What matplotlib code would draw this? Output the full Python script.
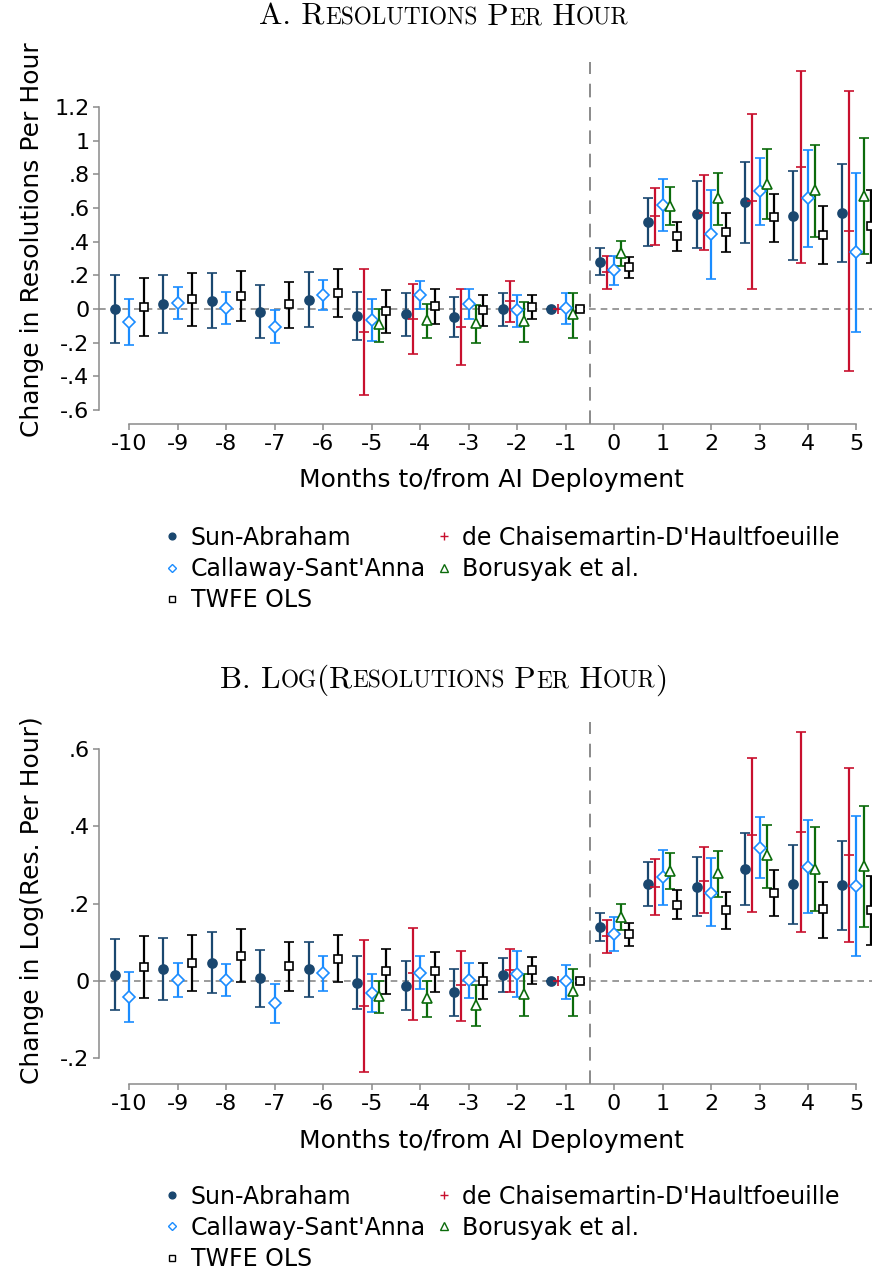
import numpy as np
import matplotlib
matplotlib.use("Agg")
import matplotlib.pyplot as plt
from matplotlib.lines import Line2D
from matplotlib.offsetbox import TextArea, HPacker, AnchoredOffsetbox

plt.rcParams['font.family'] = ['DejaVu Sans']
plt.rcParams['axes.unicode_minus'] = False

# --------------------------------------------------------------------
periods = list(range(-10, 6))
nan = np.nan

# Panel A: resolutions per hour (estimate, lower, upper)
sa_a = [0.00, 0.03, 0.05, -0.02, 0.055, -0.044, -0.03, -0.048, 0.0, 0.0, 0.281, 0.519, 0.563, 0.634, 0.555, 0.569]
sa_a_lo = [-0.20, -0.143, -0.115, -0.17, -0.109, -0.186, -0.159, -0.168, -0.099, 0.0, 0.20, 0.376, 0.363, 0.394, 0.289, 0.278]
sa_a_hi = [0.204, 0.204, 0.214, 0.141, 0.22, 0.099, 0.097, 0.071, 0.093, 0.0, 0.363, 0.662, 0.761, 0.874, 0.82, 0.86]

dc_a = [nan]*5 + [-0.137, -0.059, -0.105, 0.046, 0.0, 0.218, 0.551, 0.573, 0.64, 0.844, 0.466]
dc_a_lo = [nan]*5 + [-0.511, -0.268, -0.331, -0.077, 0.0, 0.119, 0.38, 0.349, 0.121, 0.275, -0.367]
dc_a_hi = [nan]*5 + [0.236, 0.149, 0.119, 0.168, 0.0, 0.315, 0.721, 0.795, 1.159, 1.417, 1.296]

cs_a = [-0.079, 0.038, 0.004, -0.105, 0.081, -0.065, 0.083, 0.03, -0.008, 0.004, 0.232, 0.618, 0.446, 0.70, 0.66, 0.337]
cs_a_lo = [-0.212, -0.059, -0.089, -0.204, -0.008, -0.192, -0.002, -0.061, -0.105, -0.089, 0.145, 0.464, 0.18, 0.501, 0.37, -0.135]
cs_a_hi = [0.058, 0.131, 0.099, -0.006, 0.171, 0.059, 0.168, 0.121, 0.083, 0.095, 0.317, 0.775, 0.707, 0.90, 0.947, 0.808]

bj_a = [nan]*5 + [-0.089, -0.063, -0.085, -0.071, -0.032, 0.331, 0.614, 0.662, 0.745, 0.706, 0.672]
bj_a_lo = [nan]*5 + [-0.196, -0.17, -0.202, -0.198, -0.172, 0.256, 0.497, 0.499, 0.533, 0.43, 0.327]
bj_a_hi = [nan]*5 + [0.002, 0.032, 0.022, 0.043, 0.095, 0.404, 0.727, 0.808, 0.951, 0.975, 1.015]

tw_a = [0.01, 0.059, 0.077, 0.028, 0.095, -0.014, 0.018, -0.008, 0.014, 0.0, 0.25, 0.432, 0.458, 0.545, 0.438, 0.492]
tw_a_lo = [-0.159, -0.101, -0.071, -0.111, -0.046, -0.141, -0.087, -0.101, -0.061, -0.012, 0.186, 0.343, 0.341, 0.40, 0.266, 0.272]
tw_a_hi = [0.182, 0.214, 0.228, 0.162, 0.238, 0.111, 0.121, 0.085, 0.083, 0.012, 0.311, 0.517, 0.573, 0.686, 0.611, 0.709]

# Panel B: log(resolutions per hour)
sa_b = [0.017, 0.032, 0.047, 0.008, 0.031, -0.004, -0.012, -0.028, 0.016, 0.0, 0.139, 0.252, 0.243, 0.289, 0.25, 0.248]
sa_b_lo = [-0.074, -0.048, -0.032, -0.066, -0.041, -0.072, -0.074, -0.089, -0.028, 0.0, 0.103, 0.195, 0.167, 0.197, 0.148, 0.133]
sa_b_hi = [0.110, 0.112, 0.127, 0.08, 0.102, 0.064, 0.051, 0.032, 0.06, 0.0, 0.176, 0.309, 0.32, 0.382, 0.353, 0.363]

dc_b = [nan]*5 + [-0.065, 0.02, -0.011, 0.028, 0.0, 0.116, 0.243, 0.26, 0.377, 0.386, 0.326]
dc_b_lo = [nan]*5 + [-0.235, -0.1, -0.103, -0.028, 0.0, 0.073, 0.171, 0.177, 0.178, 0.128, 0.102]
dc_b_hi = [nan]*5 + [0.105, 0.138, 0.079, 0.083, 0.0, 0.158, 0.316, 0.347, 0.577, 0.644, 0.552]

cs_b = [-0.041, 0.004, 0.003, -0.057, 0.021, -0.030, 0.022, 0.003, 0.018, -0.001, 0.122, 0.269, 0.229, 0.345, 0.296, 0.247]
cs_b_lo = [-0.106, -0.04, -0.039, -0.108, -0.025, -0.079, -0.021, -0.045, -0.041, -0.046, 0.078, 0.197, 0.142, 0.266, 0.177, 0.065]
cs_b_hi = [0.024, 0.047, 0.044, -0.008, 0.066, 0.018, 0.064, 0.048, 0.077, 0.041, 0.165, 0.34, 0.318, 0.424, 0.417, 0.426]

bj_b = [nan]*5 + [-0.038, -0.045, -0.061, -0.034, -0.026, 0.166, 0.285, 0.279, 0.325, 0.291, 0.298]
bj_b_lo = [nan]*5 + [-0.083, -0.092, -0.115, -0.091, -0.09, 0.132, 0.238, 0.218, 0.241, 0.182, 0.141]
bj_b_hi = [nan]*5 + [0.001, 0.001, -0.01, 0.018, 0.032, 0.199, 0.331, 0.336, 0.404, 0.398, 0.453]

tw_b = [0.037, 0.047, 0.066, 0.038, 0.058, 0.026, 0.025, 0.001, 0.028, 0.0, 0.122, 0.198, 0.184, 0.229, 0.186, 0.183]
tw_b_lo = [-0.043, -0.026, -0.003, -0.025, -0.002, -0.033, -0.028, -0.047, -0.007, -0.006, 0.091, 0.161, 0.135, 0.169, 0.112, 0.094]
tw_b_hi = [0.116, 0.12, 0.135, 0.1, 0.12, 0.082, 0.075, 0.048, 0.063, 0.005, 0.15, 0.235, 0.231, 0.287, 0.256, 0.272]

labels = ["Sun-Abraham", "de Chaisemartin-D'Haultfoeuille", "Callaway-Sant'Anna",
          "Borusyak et al.", "TWFE OLS"]
# --------------------------------------------------------------------
NAVY = "#1a476f"
BLUE = "#1a8cff"
RED = "#c8102e"
GREEN = "#0b6b0b"
GRAY = "#8a8a8a"

STYLES = [
    dict(marker="o", color=NAVY, mfc=NAVY, ms=6.5, offset=-0.3),
    dict(marker="+", color=RED, mfc=RED, ms=7, offset=-0.15),
    dict(marker="D", color=BLUE, mfc="white", ms=6, offset=0.0),
    dict(marker="^", color=GREEN, mfc="white", ms=7, offset=0.15),
    dict(marker="s", color="black", mfc="white", ms=6, offset=0.3),
]


def stata_fmt(v, pos):
    s = "%.1f" % v
    s = s.rstrip("0").rstrip(".")
    if s in ("-0", ""):
        s = "0"
    if s.startswith("0."):
        s = s[1:]
    elif s.startswith("-0."):
        s = "-" + s[2:]
    return s


def smallcaps_title(fig, text, x, y, big=22.5, small=16.8):
    children = []
    run, lower = "", None
    for ch in text:
        is_low = ch.islower()
        if lower is None or is_low == lower:
            run += ch
        else:
            children.append((run, lower))
            run = ch
        lower = is_low
    children.append((run, lower))
    areas = []
    for chunk, low in children:
        areas.append(TextArea(chunk.upper(), textprops=dict(
            fontfamily="cmr10", fontsize=small if low else big, color="black")))
    pack = HPacker(children=areas, align="baseline", pad=0, sep=0)
    box = AnchoredOffsetbox(loc="center", child=pack, pad=0, borderpad=0, frameon=False,
                            bbox_to_anchor=(x, y), bbox_transform=fig.transFigure)
    fig.add_artist(box)


def panel(ax, series, ylim, yticks, ylabel):
    x = np.array(periods, dtype=float)
    ax.axhline(0, color=GRAY, lw=1.2, ls=(0, (4, 3)), zorder=1)
    ax.axvline(-0.5, color=GRAY, lw=1.4, ls=(0, (7, 5)), zorder=1)
    for (est, lo, hi), st in zip(series, STYLES):
        est = np.array(est, dtype=float)
        err = [est - np.array(lo, dtype=float), np.array(hi, dtype=float) - est]
        ax.errorbar(x + st["offset"], est, yerr=err, fmt=st["marker"], color=st["color"],
                    mfc=st["mfc"], mec=st["color"], ms=st["ms"], mew=1.2,
                    elinewidth=1.6, capsize=3.6, capthick=1.6, zorder=3)
    ax.set_xlim(-10.62, 5.32)
    ax.set_ylim(*ylim)
    ax.set_yticks(yticks)
    ax.set_xticks(periods)
    ax.yaxis.set_major_formatter(plt.FuncFormatter(stata_fmt))
    for side in ("top", "right"):
        ax.spines[side].set_visible(False)
    ax.spines["left"].set_bounds(yticks[0], yticks[-1])
    ax.spines["bottom"].set_bounds(-10, 5)
    for side in ("left", "bottom"):
        ax.spines[side].set_color(GRAY)
        ax.spines[side].set_linewidth(1.1)
    ax.tick_params(colors=GRAY, labelcolor="black", labelsize=16, length=4, width=1.1, pad=3)
    ax.set_ylabel(ylabel, fontsize=18)
    ax.set_xlabel("Months to/from AI Deployment", fontsize=18)
    ax.yaxis.set_label_coords(-0.072, 0.508)
    ax.xaxis.set_label_coords(0.507, -0.122)


fig = plt.figure(figsize=(8.72, 12.76), dpi=100)
ax_a = fig.add_axes([0.1139, 0.6677, 0.8861, 0.2837])
ax_b = fig.add_axes([0.1139, 0.1502, 0.8861, 0.2840])

panel(ax_a, [(sa_a, sa_a_lo, sa_a_hi), (dc_a, dc_a_lo, dc_a_hi), (cs_a, cs_a_lo, cs_a_hi),
             (bj_a, bj_a_lo, bj_a_hi), (tw_a, tw_a_lo, tw_a_hi)],
      (-0.684, 1.468), [-0.6, -0.4, -0.2, 0, 0.2, 0.4, 0.6, 0.8, 1.0, 1.2],
      "Change in Resolutions Per Hour")
panel(ax_b, [(sa_b, sa_b_lo, sa_b_hi), (dc_b, dc_b_lo, dc_b_hi), (cs_b, cs_b_lo, cs_b_hi),
             (bj_b, bj_b_lo, bj_b_hi), (tw_b, tw_b_lo, tw_b_hi)],
      (-0.267, 0.670), [-0.2, 0, 0.2, 0.4, 0.6],
      "Change in Log(Res. Per Hour)")

smallcaps_title(fig, "A. Resolutions Per Hour", 0.509, 0.9867)
smallcaps_title(fig, "B. Log(Resolutions Per Hour)", 0.509, 0.467)

# legends: column-wise order SA, CS, TWFE | dCDH, BJS
handles = [Line2D([], [], ls="none", marker=st["marker"], color=st["color"], mfc=st["mfc"],
                  mec=st["color"], ms=st["ms"] * 0.75, mew=1.0) for st in STYLES]
order = [0, 2, 4, 1, 3]
for top in (0.5880, 0.0716):
    fig.legend([handles[i] for i in order], [labels[i] for i in order], loc="upper left",
               bbox_to_anchor=(0.1835, top), ncol=2, frameon=False, fontsize=17,
               borderpad=0, borderaxespad=0, handlelength=1.0, handletextpad=0.3,
               labelspacing=0.3, columnspacing=0.25)

fig.savefig("out.png", dpi=100)
